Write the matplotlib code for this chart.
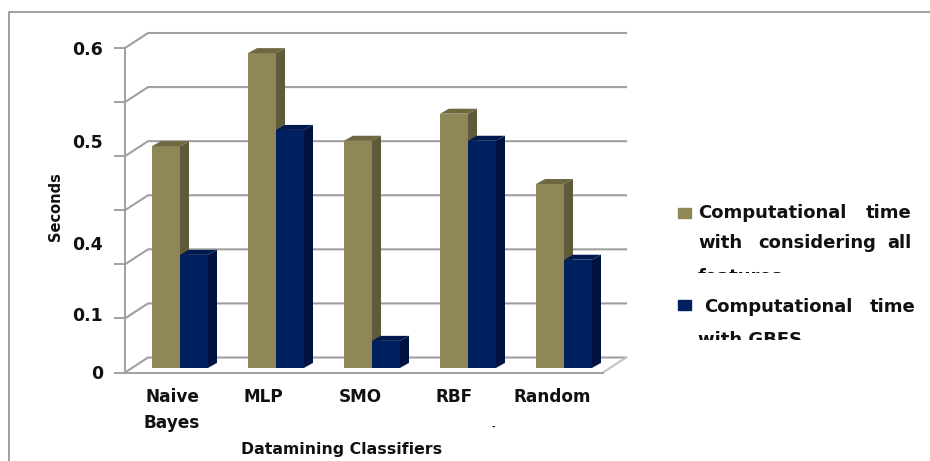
import numpy as np
import matplotlib
matplotlib.use("Agg")
import matplotlib.pyplot as plt
from matplotlib.lines import Line2D
from matplotlib.patches import Polygon, Rectangle

categories = ["Naive\nBayes", "MLP", "SMO", "RBF", "Random"]
all_features = [0.41, 0.582, 0.42, 0.47, 0.34]
with_gbfs = [0.209, 0.44, 0.05, 0.42, 0.2]
tick_values = [0, 0.1, 0.2, 0.3, 0.4, 0.5, 0.6]
# labels sit at their own heights, not on the gridlines
value_labels = ["0", "0.1", "0.4", "0.5", "0.6"]
value_label_y = [374, 316, 245, 143, 50]

W, H = 930, 461
GOLD = ("#8f8755", "#5f5a38", "#6e6840")
NAVY = ("#00205f", "#001340", "#001a4f")
GREY = "#a0a0a0"

fig = plt.figure(figsize=(W / 100, H / 100), dpi=100)
plt.rcParams["font.family"] = "DejaVu Sans"


def fx(x):
    return x / W


def fy(y):
    return 1 - y / H


def label(x, y, s, size=13, ha="left", clip=None, **kw):
    t = fig.text(fx(x), fy(y), s, fontsize=size, fontweight="bold", ha=ha,
                 va="center", color="#111111", **kw)
    if clip is not None:
        t.set_clip_path(Rectangle((fx(clip[0]), fy(clip[1])), fx(clip[2]), clip[3] / H,
                                  transform=fig.transFigure))
        t.set_clip_on(True)
    return t


# outer frame
fig.add_artist(Line2D([fx(9), fx(9), fx(930)], [0, fy(12), fy(12)], color="#999999", lw=1.3))

# axes cover the front plane of the 3d box
ax = fig.add_axes([fx(125), fy(372.5), fx(603 - 125), (372.5 - 48) / H])
x_unit = 96.0
y_unit = 54.1 / 0.1
ax.set_xlim((125 - 180) / x_unit, (603 - 180) / x_unit)
ax.set_ylim(0, 0.6)
ax.patch.set_alpha(0)
for s in ["top", "right"]:
    ax.spines[s].set_visible(False)
for s in ["left", "bottom"]:
    ax.spines[s].set_color(GREY)
    ax.spines[s].set_linewidth(1.4)
ax.set_xticks([])
ax.set_yticks(tick_values)
ax.set_yticklabels([])
ax.tick_params(axis="y", length=8, width=1.4, color=GREY)

# depth of the box and of each bar, in data units
box_dx, box_dy = 23 / x_unit, 15 / y_unit
bar_dx, bar_dy = 9 / x_unit, 5 / y_unit
base = 4.6 / y_unit
bar_w = 28 / x_unit
x0, x1 = ax.get_xlim()

for v in tick_values:
    ax.plot([x0, x0 + box_dx, x1 + box_dx], [v, v + box_dy, v + box_dy], color=GREY, lw=1.5,
            clip_on=False, zorder=1, solid_joinstyle="miter")
ax.plot([x1, x1 + box_dx], [0, box_dy], color="#c4c4c4", lw=1.5, clip_on=False, zorder=1)


def draw_bar(x, v, cols):
    left = x
    right = x + bar_w
    top = base + v
    ax.bar(left, v, bar_w, bottom=base, align="edge", color=cols[0], zorder=3, clip_on=False)
    ax.add_patch(Polygon([(right, base), (right + bar_dx, base + bar_dy),
                          (right + bar_dx, top + bar_dy), (right, top)],
                         closed=True, color=cols[1], lw=0, zorder=3, clip_on=False))
    ax.add_patch(Polygon([(left, top), (left + bar_dx, top + bar_dy),
                          (right + bar_dx, top + bar_dy), (right, top)],
                         closed=True, color=cols[2], lw=0, zorder=3, clip_on=False))


for i in range(len(categories)):
    draw_bar(i - bar_w, all_features[i], GOLD)
    draw_bar(i, with_gbfs[i], NAVY)

# value labels
for s, y in zip(value_labels, value_label_y):
    label(103, y, s, size=12.5, ha="right")

label(55, 207, "Seconds", size=10.5, rotation=90, ha="center")

# category labels
label(172, 397, "Naive", size=12.2, ha="center")
label(172, 423, "Bayes", size=12.2, ha="center")
label(263, 397, "MLP", size=12.2, ha="center")
label(360, 397, "SMO", size=12.2, ha="center")
label(454, 397, "RBF", size=12.2, ha="center")
label(552, 397, "Random", size=12.2, ha="center")
label(342, 449, "Datamining Classifiers", size=11.3, ha="center", clip=(200, 457, 320, 30))
label(493, 427, "-", size=6, ha="center")

# legend, worded out so the lines stay justified
fig.add_artist(Rectangle((fx(678), fy(218)), 13 / W, 10 / H, color=GOLD[0], transform=fig.transFigure))
fig.add_artist(Rectangle((fx(678), fy(310)), 13 / W, 10 / H, color=NAVY[0], transform=fig.transFigure))
label(698, 213, "Computational")
label(911, 213, "time", ha="right")
label(698, 243, "with")
label(758, 243, "considering")
label(911, 243, "all", ha="right")
label(698, 277, "features", clip=(690, 273, 240, 20))
label(704, 307, "Computational")
label(915, 307, "time", ha="right")
label(698, 340, "with GBFS", clip=(690, 340, 240, 20))

fig.savefig("out.png", dpi=100)
